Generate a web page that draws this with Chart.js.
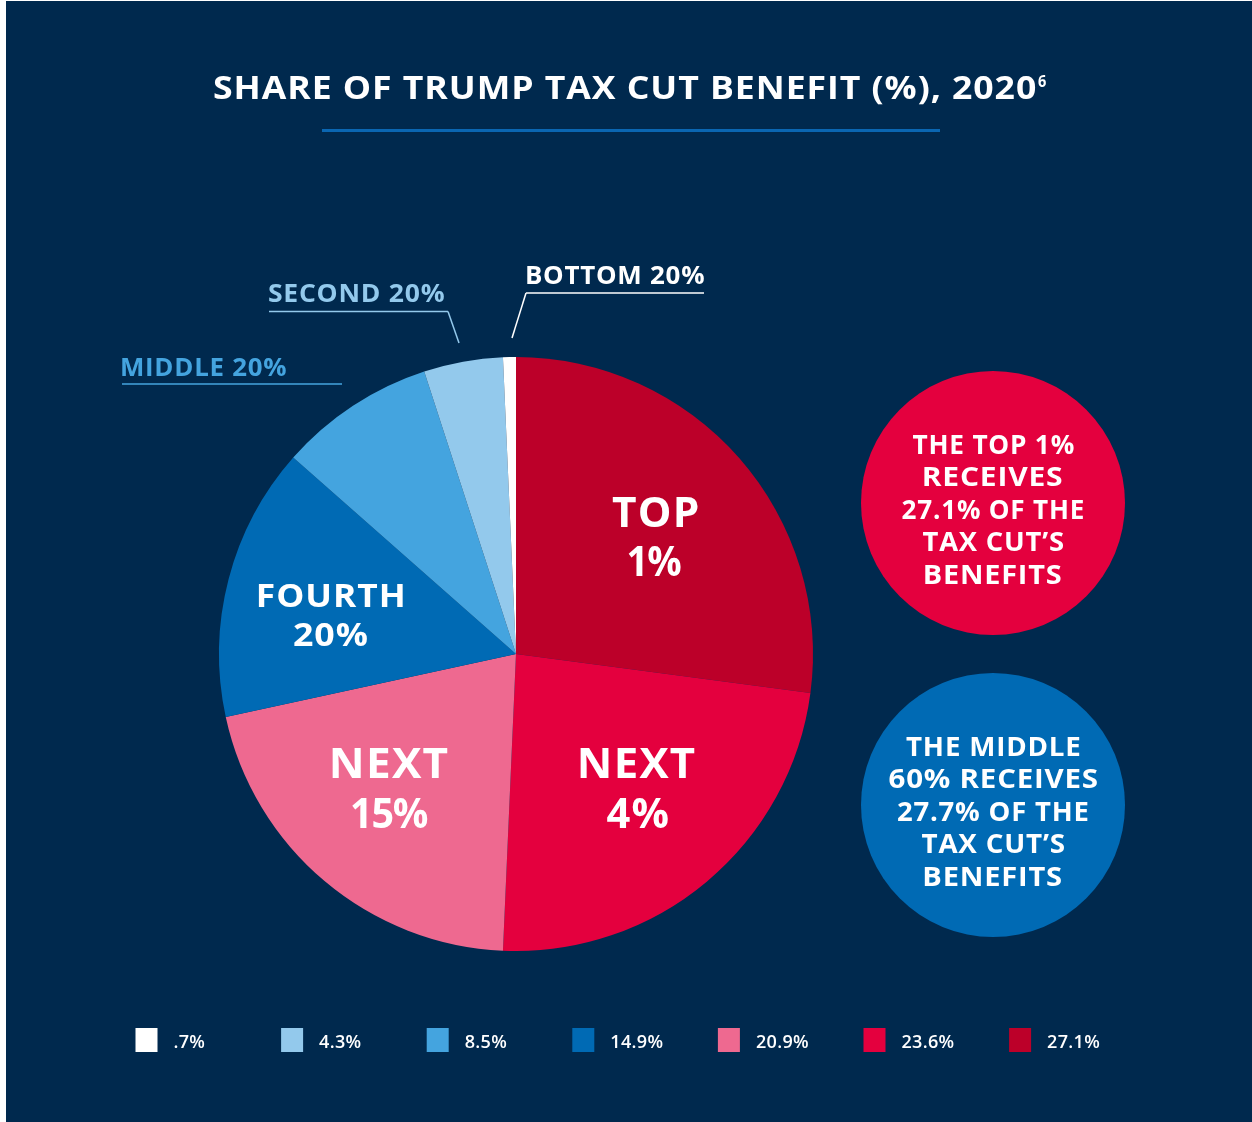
<!DOCTYPE html>
<html>
<head>
<meta charset="utf-8">
<title>Share of Trump Tax Cut Benefit (%), 2020</title>
<script src="https://cdn.jsdelivr.net/npm/chart.js@4.4.1/dist/chart.umd.min.js"></script>
<style>
  html, body { margin: 0; padding: 0; background: #ffffff; }
  canvas { display: block; }
</style>
</head>
<body>
<canvas id="taxChart" width="1252" height="1122"></canvas>
<script>
// Income groups, clockwise from 12 o'clock
const groups = ['Top 1%', 'Next 4%', 'Next 15%', 'Fourth 20%', 'Middle 20%', 'Second 20%', 'Bottom 20%'];
// Share of the tax cut benefit (%)
const shares = [27.1, 23.6, 20.9, 14.9, 8.5, 4.3, 0.7];
// Legend runs from the smallest share to the largest
const legendOrder = [6, 5, 4, 3, 2, 1, 0];

const sliceColors = ['#bc0029', '#e4003e', '#ee6990', '#006ab4', '#44a4df', '#93c9ec', '#ffffff'];
const NAVY = '#00294e';
const FONT = '"Open Sans", "Noto Sans", "DejaVu Sans", sans-serif';

const fmtShare = v => String(v).replace(/^0\./, '.') + '%';

// ---- text helpers -------------------------------------------------------
function capRatio(ctx, weight) {
  ctx.save();
  ctx.font = `${weight} 100px ${FONT}`;
  ctx.letterSpacing = '0px';
  const r = ctx.measureText('H').actualBoundingBoxAscent / 100;
  ctx.restore();
  return r;
}

// Draws text whose capitals are `cap` px tall and whose ink spans `width` px from `left`.
// Glyphs are widened a little (geometric look) and the rest is made up with tracking.
function fitText(ctx, text, left, baseline, cap, width, color, weight = '700') {
  ctx.save();
  const size = cap / capRatio(ctx, weight);
  ctx.font = `${weight} ${size}px ${FONT}`;
  ctx.letterSpacing = '0px';
  const m = ctx.measureText(text);
  const ink = m.actualBoundingBoxLeft + m.actualBoundingBoxRight;
  const n = [...text].length;
  let ls = n > 1 ? 0.03 * size : 0;
  let sx = (width - ls * (n - 1)) / ink;
  sx = Math.max(0.95, Math.min(1.16, sx));
  ls = n > 1 ? (width / sx - ink) / (n - 1) : 0;
  ctx.letterSpacing = ls + 'px';
  ctx.fillStyle = color;
  ctx.textAlign = 'left';
  ctx.textBaseline = 'alphabetic';
  ctx.translate(left, baseline);
  ctx.scale(sx, 1);
  ctx.fillText(text, m.actualBoundingBoxLeft, 0);
  ctx.restore();
}

function fitCenter(ctx, text, cx, baseline, cap, width, color, weight = '700') {
  fitText(ctx, text, cx - width / 2, baseline, cap, width, color, weight);
}

function line(ctx, pts, color, w) {
  ctx.save();
  ctx.strokeStyle = color;
  ctx.lineWidth = w;
  ctx.beginPath();
  ctx.moveTo(pts[0][0], pts[0][1]);
  for (let i = 1; i < pts.length; i++) ctx.lineTo(pts[i][0], pts[i][1]);
  ctx.stroke();
  ctx.restore();
}

function disc(ctx, x, y, r, color) {
  ctx.save();
  ctx.fillStyle = color;
  ctx.beginPath();
  ctx.arc(x, y, r, 0, Math.PI * 2);
  ctx.fill();
  ctx.restore();
}

// ---- background, heading, call-outs, summary circles ---------------------
const backdrop = {
  id: 'backdrop',
  beforeDraw(chart) {
    const ctx = chart.ctx;
    ctx.save();
    ctx.fillStyle = '#ffffff';
    ctx.fillRect(0, 0, chart.width, chart.height);
    ctx.fillStyle = NAVY;
    ctx.fillRect(6, 1, chart.width - 6, chart.height - 1);
    ctx.restore();

    // heading
    fitText(ctx, 'SHARE OF TRUMP TAX CUT BENEFIT (%), 2020', 214, 99, 23, 822, '#ffffff');
    fitText(ctx, '6', 1038, 87, 11, 8, '#ffffff');
    ctx.save();
    ctx.fillStyle = '#0a66b2';
    ctx.fillRect(322, 129, 618, 3);
    ctx.restore();

    // call-outs for the thin slices
    fitText(ctx, 'BOTTOM 20%', 527, 284, 18, 177, '#ffffff');
    line(ctx, [[526, 293], [704, 293]], '#ffffff', 1.5);
    line(ctx, [[526, 293], [512, 338]], '#ffffff', 1.5);

    fitText(ctx, 'SECOND 20%', 269, 302, 18, 175, '#93c9ec');
    line(ctx, [[269, 311.5], [448, 311.5]], '#93c9ec', 1.5);
    line(ctx, [[448, 311.5], [459, 343]], '#93c9ec', 1.5);

    fitText(ctx, 'MIDDLE 20%', 122, 375.5, 18, 164, '#44a4df');
    line(ctx, [[122, 384], [342, 384]], '#44a4df', 1.5);

    // summary circles
    const topLines = [
      ['THE TOP 1%', 161], ['RECEIVES', 138], ['27.1% OF THE', 181], ['TAX CUT\u2019S', 141], ['BENEFITS', 136]
    ];
    const midLines = [
      ['THE MIDDLE', 174], ['60% RECEIVES', 209], ['27.7% OF THE', 190], ['TAX CUT\u2019S', 143], ['BENEFITS', 137]
    ];
    const circles = [
      { cy: 503, color: '#e4003e', lines: topLines },
      { cy: 805, color: '#006ab4', lines: midLines }
    ];
    circles.forEach(c => {
      disc(ctx, 993, c.cy, 132, c.color);
      c.lines.forEach(([t, w], i) => {
        fitCenter(ctx, t, 993, c.cy - 68 + 19 + i * 32.4, 19, w, '#ffffff');
      });
    });
  }
};

// ---- in-slice labels and legend -----------------------------------------
const overlay = {
  id: 'overlay',
  afterDatasetsDraw(chart) {
    const ctx = chart.ctx;
    const big = [
      { cx: 655, rows: [['TOP', 498, 86], ['1%', 547, 53]], cap: 29 },
      { cx: 637.5, rows: [['NEXT', 748, 115], ['4%', 798, 62]], cap: 30 },
      { cx: 390, rows: [['NEXT', 748, 116], ['15%', 798, 76]], cap: 30 },
      { cx: 330.5, rows: [['FOURTH', 584, 145], ['20%', 623, 73]], cap: 23 }
    ];
    big.forEach(b => {
      b.rows.forEach(([t, top, w]) => fitCenter(ctx, t, b.cx, top + b.cap, b.cap, w, '#ffffff'));
    });

    // legend
    const step = 145.6;
    legendOrder.forEach((idx, i) => {
      const x = 135.5 + i * step;
      ctx.save();
      ctx.fillStyle = sliceColors[idx];
      ctx.fillRect(x, 1028, 22, 24);
      ctx.restore();
      const size = 13 / capRatio(ctx, '600');
      ctx.save();
      ctx.font = `600 ${size}px ${FONT}`;
      ctx.letterSpacing = '0.3px';
      ctx.fillStyle = '#ffffff';
      ctx.textBaseline = 'alphabetic';
      ctx.fillText(fmtShare(shares[idx]), x + 38, 1048);
      ctx.restore();
    });
  }
};

new Chart(document.getElementById('taxChart'), {
  type: 'pie',
  data: {
    labels: groups,
    datasets: [{
      data: shares,
      backgroundColor: sliceColors,
      borderWidth: 0,
      hoverOffset: 0
    }]
  },
  options: {
    responsive: false,
    animation: false,
    events: [],
    layout: { padding: { left: 219, right: 439, top: 357, bottom: 171 } },
    plugins: {
      legend: { display: false },
      tooltip: { enabled: false },
      title: { display: false }
    }
  },
  plugins: [backdrop, overlay]
});
</script>
</body>
</html>
